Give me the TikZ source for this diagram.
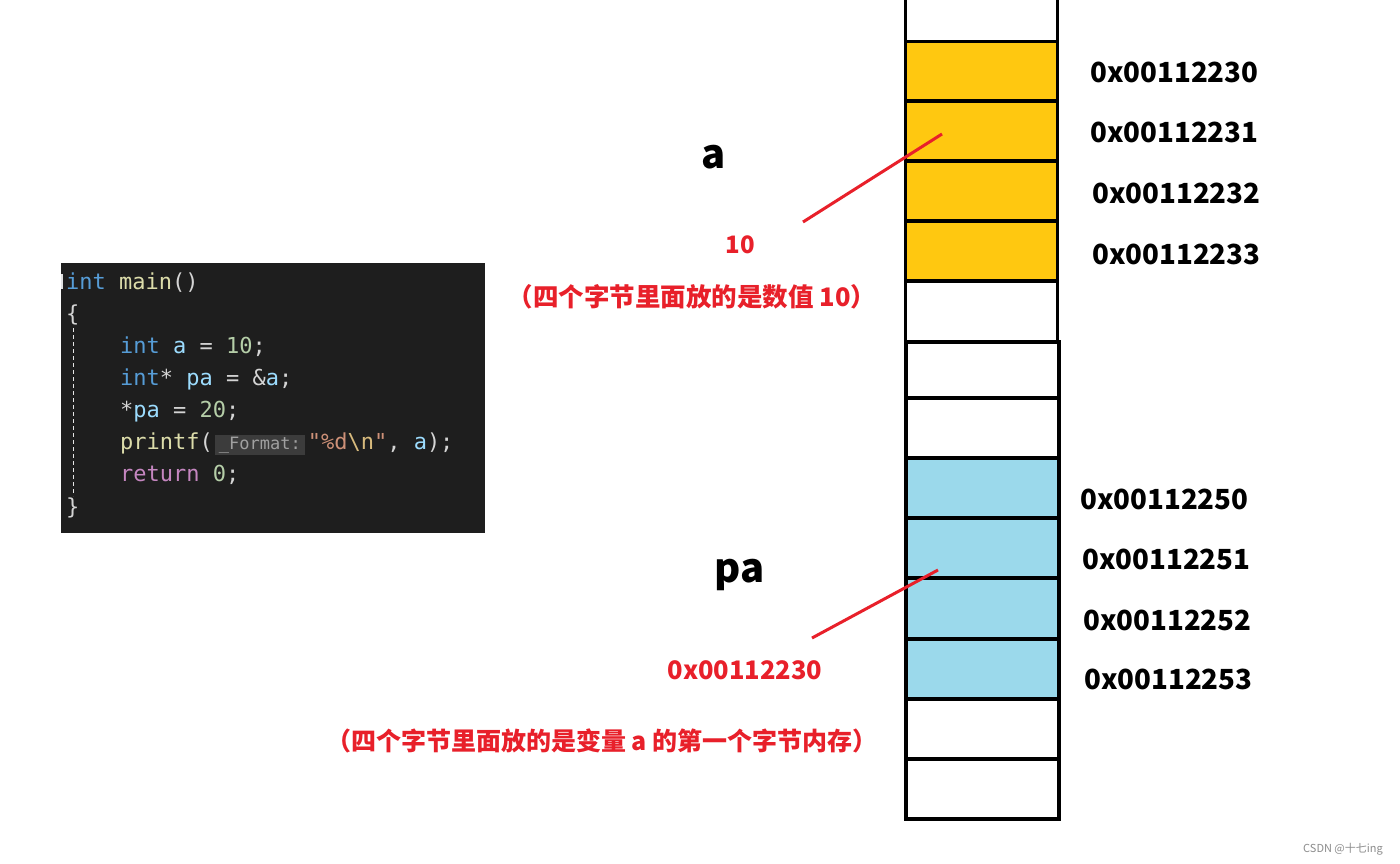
\documentclass[tikz,border=0pt]{standalone}
\usepackage{fontspec}
\setmainfont{Noto Sans CJK SC}
\newfontfamily\codefont{DejaVu Sans Mono}
\definecolor{codebg}{HTML}{1E1E1E}
\definecolor{ckw}{HTML}{569CD6}
\definecolor{cfn}{HTML}{DCDCAA}
\definecolor{cvar}{HTML}{9CDCFE}
\definecolor{cnum}{HTML}{B5CEA8}
\definecolor{cstr}{HTML}{CE9178}
\definecolor{cesc}{HTML}{D7BA7D}
\definecolor{cctl}{HTML}{C586C0}
\definecolor{cpun}{HTML}{D4D4D4}
\definecolor{hintbg}{HTML}{3C3C3C}
\definecolor{hintfg}{HTML}{A0A0A0}
\definecolor{yel}{HTML}{FFC810}
\definecolor{blu}{HTML}{9BD9EB}
\definecolor{redt}{HTML}{E8202A}
\newcommand{\hint}[1]{{\kern2pt\setlength\fboxsep{2pt}\colorbox{hintbg}{\fontsize{17}{17}\selectfont\kern2pt\textcolor{hintfg}{#1}\kern2pt}\kern3pt}}
\begin{document}
\begin{tikzpicture}[x=1pt,y=-1pt,
  cell/.style={draw=black,line width=3.2pt,minimum width=152pt,minimum height=60pt,inner sep=0pt,outer sep=0pt},
  code/.style={anchor=base west,inner sep=0pt,font=\codefont\fontsize{22}{22}\selectfont,text=cpun},
  addr/.style={anchor=west,inner sep=0pt,font=\bfseries\fontsize{27.7}{28}\selectfont},
  var/.style={inner sep=0pt,font=\bfseries\fontsize{40}{40}\selectfont},
  rtxt/.style={inner sep=0pt,text=redt,font=\bfseries\fontsize{24}{24}\selectfont},
  pointer/.style={draw=redt,line width=3pt}]
\useasboundingbox (0,0) rectangle (1400,863);
\fill[white] (0,0) rectangle (1400,863);

% code block
\node[fill=codebg,minimum width=424pt,minimum height=270pt,inner sep=0pt,anchor=north west] (codebox) at (61,263) {};
\draw[cpun!60,line width=0.8pt,dash pattern=on 4pt off 3pt] (73,328) -- (73,496);
\fill[cpun!70] (61,274) rectangle (63,289);
\node[code] (l1) at (66,289) {\textcolor{ckw}{int} \textcolor{cfn}{main}()};
\node[code] (l2) at (66,321) {\{};
\node[code] (l3) at (120,353) {\textcolor{ckw}{int} \textcolor{cvar}{a} = \textcolor{cnum}{10};};
\node[code] (l4) at (120,385) {\textcolor{ckw}{int}* \textcolor{cvar}{pa} = \&\textcolor{cvar}{a};};
\node[code] (l5) at (120,417) {*\textcolor{cvar}{pa} = \textcolor{cnum}{20};};
\node[code] (l6) at (120,449) {\textcolor{cfn}{printf}(\hint{\_Format:}\textcolor{cstr}{"\%d}\textcolor{cesc}{\textbackslash n}\textcolor{cstr}{"}, \textcolor{cvar}{a});};
\node[code] (l7) at (120,481) {\textcolor{cctl}{return} \textcolor{cnum}{0};};
\node[code] (l8) at (66,514) {\}};

% memory column 1
\node[cell,fill=white,minimum height=60pt] (m0) at (981.5,12) {};
\node[cell,fill=yel] (m1) at (981.5,71.5) {};
\node[cell,fill=yel] (m2) at (981.5,131) {};
\node[cell,fill=yel] (m3) at (981.5,191) {};
\node[cell,fill=yel] (m4) at (981.5,251) {};
\node[cell,fill=white,minimum height=61pt] (m5) at (981.5,311.5) {};
% memory column 2
\node[cell,fill=white,minimum width=153pt,minimum height=56pt] (n0) at (982.5,370) {};
\node[cell,fill=white,minimum width=153pt] (n1) at (982.5,428) {};
\node[cell,fill=blu,minimum width=153pt] (n2) at (982.5,488) {};
\node[cell,fill=blu,minimum width=153pt] (n3) at (982.5,548) {};
\node[cell,fill=blu,minimum width=153pt,minimum height=61pt] (n4) at (982.5,608.5) {};
\node[cell,fill=blu,minimum width=153pt] (n5) at (982.5,669) {};
\node[cell,fill=white,minimum width=153pt] (n6) at (982.5,729) {};
\node[cell,fill=white,minimum width=153pt] (n7) at (982.5,789) {};

% addresses
\node[addr] (a0) at (1090,72) {0x00112230};
\node[addr] (a1) at (1090,132) {0x00112231};
\node[addr] (a2) at (1092,193) {0x00112232};
\node[addr] (a3) at (1092,254) {0x00112233};
\node[addr] (b0) at (1080,499) {0x00112250};
\node[addr] (b1) at (1082,559) {0x00112251};
\node[addr] (b2) at (1083,620) {0x00112252};
\node[addr] (b3) at (1084,679) {0x00112253};

% variable a
\node[var] (va) at (714,157) {a};
\node[rtxt] (va10) at (740,245) {10};
\node[rtxt,font=\bfseries\fontsize{25.5}{26}\selectfont] (vacap) at (692,297) {（四个字节里面放的是数值 10）};
\coordinate (pa1) at (803,222);
\coordinate (pa2) at (942,134);
\draw[pointer] (pa1) -- (pa2);

% variable pa
\node[var] (vpa) at (740,575) {pa};
\node[rtxt,font=\bfseries\fontsize{25.5}{26}\selectfont] (vpaval) at (745,670) {0x00112230};
\node[rtxt,font=\bfseries\fontsize{25}{25}\selectfont] (vpacap) at (602,741) {（四个字节里面放的是变量 a 的第一个字节内存）};
\coordinate (pb1) at (812,638);
\coordinate (pb2) at (938,570);
\draw[pointer] (pb1) -- (pb2);

% watermark
\node[inner sep=0pt,text=black!45,font=\fontsize{11}{11}\selectfont] (wm) at (1343,849) {CSDN @十七ing};
\end{tikzpicture}
\end{document}
